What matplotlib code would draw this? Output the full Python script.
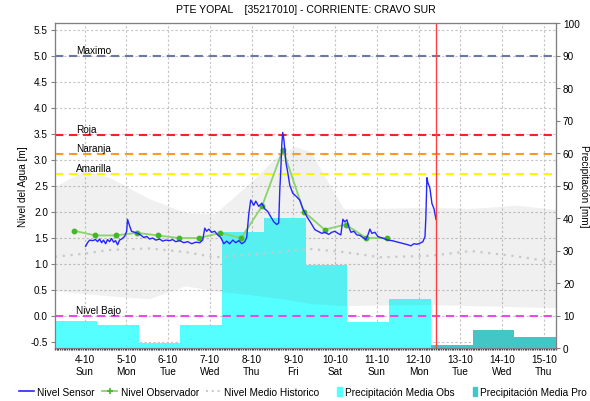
import numpy as np
import pandas as pd
import matplotlib
matplotlib.use("Agg")
import matplotlib.pyplot as plt
import matplotlib.dates as mdates
from matplotlib.lines import Line2D
from matplotlib.patches import Rectangle
from matplotlib.legend_handler import HandlerPatch

plt.rcParams['font.family'] = ['Liberation Sans', 'DejaVu Sans']

# time axis: hours counted from 2020-10-04 00:00
T0 = pd.Timestamp('2020-10-04 00:00')
X_START = pd.Timestamp('2020-10-03 07:00')
X_END = pd.Timestamp('2020-10-15 07:00')
NOW = pd.Timestamp('2020-10-12 10:00')

# sensor level [m]
sensor_h = [0.6, 1.7, 2.9, 4.6, 6.3, 7.5, 8.6, 9.8, 10.9, 12.1, 13.2, 14.4, 15.5, 16.7,
            17.8, 19.0, 20.1, 21.3, 23.0, 24.2, 24.7, 25.9, 27.0, 28.8, 30.5, 32.2, 34.0,
            35.7, 37.4, 39.1, 40.9, 43.2, 44.9, 46.6, 48.9, 50.6, 52.4, 54.7, 57.0, 59.3,
            61.6, 63.9, 66.2, 67.9, 69.1, 70.2, 71.4, 73.1, 74.8, 76.5, 78.3, 80.0, 81.7,
            83.4, 85.2, 86.9, 88.6, 90.4, 92.1, 93.2, 94.4, 95.5, 97.3, 98.4, 100.1, 101.9,
            103.6, 105.3, 107.0, 108.8, 110.5, 111.6, 112.2, 112.8, 113.4, 113.9, 114.5,
            115.1, 115.7, 116.8, 118.0, 119.7, 121.4, 123.7, 125.5, 127.8, 130.1, 132.4,
            134.1, 136.4, 138.1, 140.4, 142.1, 143.9, 145.6, 147.3, 148.5, 149.6, 150.8,
            151.9, 153.1, 154.8, 156.5, 158.3, 160.0, 161.7, 162.9, 164.0, 165.2, 166.9,
            168.6, 170.3, 172.1, 174.4, 176.7, 179.0, 181.3, 183.6, 185.9, 187.6, 189.3,
            191.1, 192.8, 194.5, 195.7, 196.2, 196.8, 197.4, 198.5, 199.7, 200.9, 202.0]
sensor_m = [1.33, 1.40, 1.45, 1.44, 1.46, 1.42, 1.47, 1.40, 1.45, 1.38, 1.46, 1.42, 1.48, 1.41,
            1.44, 1.36, 1.45, 1.47, 1.52, 1.62, 1.85, 1.72, 1.62, 1.60, 1.58, 1.55, 1.50,
            1.52, 1.47, 1.49, 1.45, 1.47, 1.43, 1.45, 1.44, 1.46, 1.42, 1.44, 1.40, 1.42,
            1.38, 1.41, 1.40, 1.45, 1.68, 1.62, 1.66, 1.60, 1.62, 1.55, 1.50, 1.38, 1.43,
            1.38, 1.45, 1.40, 1.44, 1.38, 1.42, 1.50, 1.95, 2.22, 2.12, 2.20, 2.10, 2.16,
            2.05, 2.00, 1.90, 1.80, 1.75, 1.78, 2.40, 2.80, 3.30, 3.52, 3.40,
            3.20, 2.95, 2.75, 2.50, 2.35, 2.30, 2.22, 2.05, 1.90, 1.78, 1.65,
            1.62, 1.58, 1.60, 1.56, 1.60, 1.62, 1.58, 1.55, 1.85, 1.80, 1.84,
            1.70, 1.60, 1.62, 1.55, 1.54, 1.50, 1.46, 1.55, 1.66, 1.58, 1.60,
            1.52, 1.50, 1.48, 1.45, 1.44, 1.42, 1.40, 1.38, 1.36, 1.34, 1.38,
            1.37, 1.39, 1.42, 1.52, 1.90, 2.65, 2.55, 2.45, 2.15, 2.05, 1.85]

# observer readings (06:00 and 18:00)
obs_h = [-6, 6, 18, 30, 42, 54, 66, 78, 90, 102, 114, 126, 138, 150, 162, 174]
obs_m = [1.63, 1.54, 1.54, 1.59, 1.54, 1.49, 1.49, 1.59, 1.49, 2.10, 3.19, 2.00,
         1.65, 1.75, 1.49, 1.49]

# historic level: envelope and mean
hist_h = [-17, 0, 14, 37, 58, 75, 95, 112, 121, 130, 149, 170, 199, 222, 248, 271]
hist_max = [2.48, 2.79, 2.66, 2.25, 1.98, 1.96, 2.55, 3.10, 3.25, 3.15, 2.05, 2.06,
            2.08, 2.06, 2.12, 2.04]
hist_min = [0.48, 0.42, 0.38, 0.32, 0.57, 0.47, 0.40, 0.33, 0.28, 0.23, 0.19, 0.20,
            0.21, 0.19, 0.17, 0.15]
hist_mean = [1.13, 1.19, 1.26, 1.29, 1.22, 1.12, 1.17, 1.22, 1.26, 1.28, 1.22, 1.12,
             1.15, 1.24, 1.14, 1.02]

# daily precipitation [mm], days starting 07:00
prec_obs_start = '2020-10-03 07:00'
prec_obs = [8.4, 7.2, 1.5, 7.0, 35.8, 40.0, 25.5, 7.9, 15.0]
prec_pro_start = '2020-10-12 07:00'
prec_pro = [0.8, 5.5, 3.4]

# alert levels [m]
levels = [('Maximo', 5.0, '#6a78a8'), ('Roja', 3.47, '#ff2020'),
          ('Naranja', 3.11, '#ff9a22'), ('Amarilla', 2.73, '#f8f800'),
          ('Nivel Bajo', 0.0, '#e84ce8')]


def to_time(hours):
    return T0 + pd.to_timedelta(np.asarray(hours, dtype=float), unit='h')


fig = plt.figure(figsize=(5.9, 4.02), dpi=100)
ax = fig.add_axes([55 / 590, 1 - 349 / 402, 501 / 590, 325 / 402])
ax2 = ax.twinx()
ax3 = ax.twinx()

ax.set_xlim(X_START, X_END)
ax.set_ylim(-0.625, 5.625)
ax2.set_ylim(0, 100)
ax3.set_ylim(-0.625, 5.625)

# grid only on the base axes, bars cover it
ax.set_yticks(np.arange(-0.5, 5.51, 0.5))
ax.yaxis.set_major_formatter(matplotlib.ticker.FormatStrFormatter('%.1f'))
ax.grid(True, color='#c4c4c4', lw=0.8, ls=(0, (2, 2)))
ax.xaxis.set_major_locator(mdates.DayLocator())
ax.xaxis.set_minor_locator(mdates.HourLocator())


def day_label(x, pos):
    d = mdates.num2date(x)
    return f"{d.day}-{d.month}\n{d:%a}"


ax.xaxis.set_major_formatter(matplotlib.ticker.FuncFormatter(day_label))
ax.tick_params(axis='x', which='major', length=1.5, color='#333333', labelsize=7.2, pad=3)
ax.tick_params(axis='x', which='minor', length=1.5, width=0.9, color='#444444')
ax.tick_params(axis='y', length=3, color='#808080', labelsize=7.2, pad=2)
ax.set_ylabel('Nivel del Agua [m]', fontsize=7.2, labelpad=2)

# precipitation bars
obs_days = pd.date_range(prec_obs_start, periods=len(prec_obs), freq='D')
pro_days = pd.date_range(prec_pro_start, periods=len(prec_pro), freq='D')
ax2.bar(obs_days, prec_obs, width=1.0, align='edge', color='#55ffff', lw=0)
ax2.bar(pro_days, prec_pro, width=1.0, align='edge', color='#45c6c6', lw=0)
ax2.set_yticks(np.arange(0, 101, 10))
ax2.tick_params(axis='y', length=3, color='#808080', labelsize=7.2, pad=2)
ax2.set_ylabel('Precipitación [mm]', fontsize=7.2, rotation=270, labelpad=6.5)

# levels drawn above the bars
ax3.yaxis.set_visible(False)
ht = to_time(hist_h)
ax3.fill_between(ht, hist_min, hist_max, color='#717171', alpha=0.1, lw=0)
ax3.plot(ht, hist_mean, color='#c8c8c8', lw=1.6, ls=(0, (1, 2.5)))

for name, val, col in levels:
    ax3.axhline(val, color=col, lw=1.5, ls=(0, (4, 2.7)))
    ax3.annotate(name, xy=(0.042, val), xycoords=ax3.get_yaxis_transform(),
                 xytext=(0, 0.5), textcoords='offset points', fontsize=7.2,
                 va='bottom', ha='left')

ax3.plot(to_time(obs_h), obs_m, color='#8ad46a', lw=1.3, marker='o', ms=3.2,
         mfc='#44b824', mec='#44b824')
ax3.plot(to_time(sensor_h), sensor_m, color='#2525ff', lw=1.0)
ax3.axvline(NOW, color='#ff4040', lw=1.0)

for a in (ax, ax2, ax3):
    for s in a.spines.values():
        s.set_color('#808080')
ax.spines['bottom'].set_color('#333333')

ax.set_title('PTE YOPAL    [35217010] - CORRIENTE: CRAVO SUR', fontsize=7.6, pad=8)


def narrow_patch(legend, orig_handle, xdescent, ydescent, width, height, fontsize):
    w = 0.45 * fontsize
    h = 1.25 * height
    return Rectangle((-xdescent + width - w, -ydescent - 0.12 * height), w, h)


handles = [
    Line2D([], [], color='#2525ff', lw=1.2),
    Line2D([], [], color='#8ad46a', lw=1.3, marker='+', ms=4, mec='#44b824', mew=1.2),
    Line2D([], [], color='#c8c8c8', lw=1.4, ls=(0, (1, 2))),
    Rectangle((0, 0), 1, 1, color='#55ffff'),
    Rectangle((0, 0), 1, 1, color='#45c6c6'),
]
labels = ['Nivel Sensor', 'Nivel Observador', 'Nivel Medio Historico',
          'Precipitación Media Obs', 'Precipitación Media Pro']
fig.legend(handles, labels, ncol=5, loc='center', bbox_to_anchor=(303 / 590, 1 - 393 / 402),
           frameon=False, fontsize=7.3, handlelength=1.5, handletextpad=0.3,
           columnspacing=0.72, borderpad=0, borderaxespad=0,
           handler_map={Rectangle: HandlerPatch(patch_func=narrow_patch)})

fig.savefig('out.png', dpi=100)
